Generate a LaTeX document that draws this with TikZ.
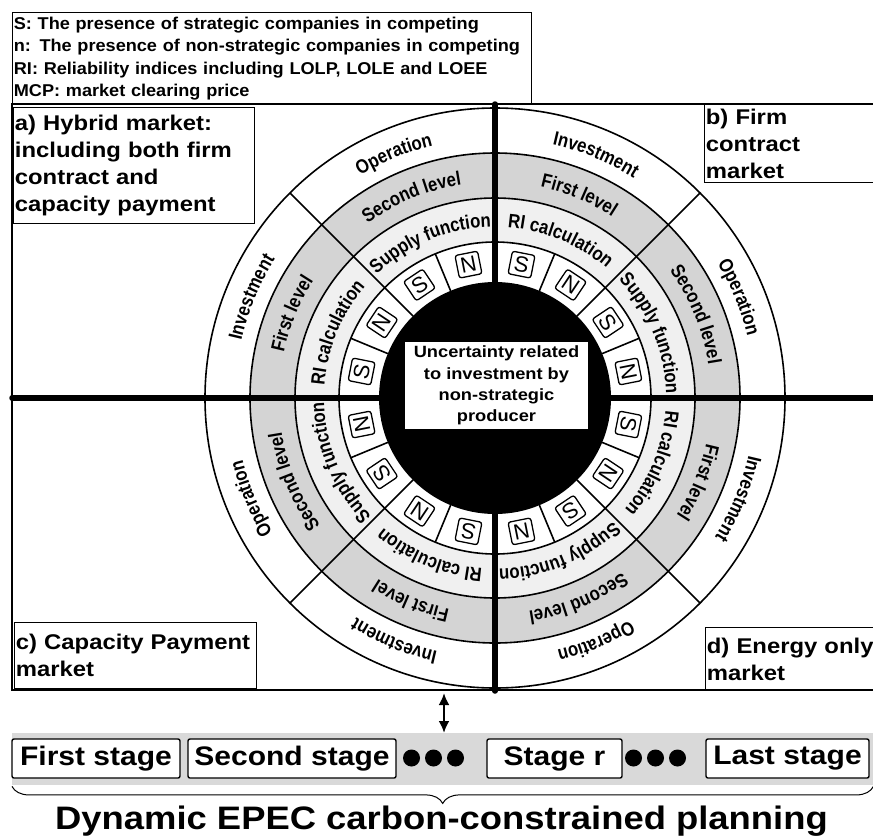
\documentclass[tikz,border=0pt]{standalone}
\usepackage{fontspec}
\setmainfont{Liberation Sans}
\newfontfamily\figfont[FakeStretch=1.12]{Liberation Sans}
\newfontfamily\notefont[FakeStretch=1.06]{Liberation Sans Bold}
\newfontfamily\arcfont[FakeStretch=0.86]{Liberation Sans}
\usepackage{tikz}
\usetikzlibrary{positioning, decorations.text, decorations.pathreplacing, arrows.meta}
\usepackage{xcolor}
\definecolor{levelgray}{gray}{0.83}
\definecolor{calcgray}{gray}{0.94}
\definecolor{bandgray}{gray}{0.85}
\newcommand{\ringfont}{\arcfont\bfseries\fontsize{19.5}{19.5}\selectfont}

\begin{document}
\begin{tikzpicture}[x=1pt, y=1pt,
    labelbox/.style={draw, line width=0.8pt, fill=white, align=left, anchor=north west,
        inner xsep=1.5pt, inner ysep=0pt, font=\figfont\bfseries\fontsize{21.3}{27}\selectfont},
    stagebox/.style={draw, line width=1.4pt, rounded corners=2pt, fill=white, minimum height=39pt,
        inner sep=0pt, font=\figfont\bfseries\fontsize{26.8}{30}\selectfont},
    snbox/.style={draw, line width=1.3pt, rounded corners=2.5pt, minimum size=23pt, inner sep=0pt,
        font=\fontsize{22}{22}\selectfont},
    ring/.style={line width=1.6pt},
    crossline/.style={line width=5.5pt, line cap=round},
    ringtext/.style={decorate, decoration={text along path, text align=center, text={|\ringfont|#1}}}
]
        \useasboundingbox (0,0) rectangle (873,-836);
        \fill[white] (0,0) rectangle (873,-836);

        % Legend
        \node[draw, line width=0.8pt, anchor=north west, align=left, text width=516pt, minimum height=92pt,
              inner xsep=1.5pt, inner ysep=0pt, font=\notefont\fontsize{17.1}{22.5}\selectfont]
              (legend) at (12,-12)
              {S: The presence of strategic companies in competing\\
               n: The presence of non-strategic companies in competing\\
               RI: Reliability indices including LOLP, LOLE and LOEE\\
               MCP: market clearing price};

        % Draw the rings, outside in
        \begin{scope}[shift={(495,-398)}]
            \filldraw[ring, fill=white] (0,0) circle[radius=290pt];
            \filldraw[ring, fill=levelgray] (0,0) circle[radius=245pt];
            \filldraw[ring, fill=calcgray] (0,0) circle[radius=200pt];
            \filldraw[ring, fill=white] (0,0) circle[radius=156pt];
            \fill (0,0) circle[radius=116pt];
            \foreach \a in {45,135,225,315}
                \draw[ring] (\a:156pt) -- (\a:290pt);      % halves of a quadrant
            \foreach \a in {0,22.5,...,337.5}
                \draw[ring] (\a:116pt) -- (\a:156pt);      % S/N cells
        \end{scope}

        % The cross
        \draw[crossline] (12,-398) -- (873,-398);
        \draw[crossline] (495,-104) -- (495,-691);

        \node[fill=white, align=center, minimum width=183pt, minimum height=87pt, inner sep=0pt,
              font=\figfont\bfseries\fontsize{16.3}{21.3}\selectfont] (core) at (496.5,-385.5)
              {Uncertainty related\\ to investment by\\ non-strategic\\ producer};

        % Label the rings, clockwise in every quadrant
        \begin{scope}[shift={(495,-398)}]
            \foreach \q/\s in {1/90,2/0,3/-90,4/-180} {
                \path[ringtext=Investment] (\s:260pt) arc[start angle=\s, delta angle=-45, radius=260pt];
                \path[ringtext=Operation] (\s-45:260pt) arc[start angle=\s-45, delta angle=-45, radius=260pt];
                \path[ringtext=First level] (\s:216pt) arc[start angle=\s, delta angle=-45, radius=216pt];
                \path[ringtext=Second level] (\s-45:216pt) arc[start angle=\s-45, delta angle=-45, radius=216pt];
                \path[ringtext=RI calculation] (\s:171pt) arc[start angle=\s, delta angle=-45, radius=171pt];
                \path[ringtext=Supply function] (\s-45:171pt) arc[start angle=\s-45, delta angle=-45, radius=171pt];
                \foreach \l [count=\j, evaluate=\j as \a using \s-11.25-22.5*(\j-1)] in {S,N,S,N}
                    \node[snbox, rotate=\a-90] (sn\q\j) at (\a:136pt) {\l};
            }
        \end{scope}

        % Market boxes
        \node[labelbox, text width=238pt, minimum height=116pt] (hybrid) at (13,-107)
              {a) Hybrid market:\\ including both firm\\ contract and\\ capacity payment};
        \node[labelbox, text width=185pt, minimum height=78pt] (firm) at (704,-104)
              {b) Firm\\ contract\\ market};
        \node[labelbox, text width=239pt, minimum height=66pt] (capacity) at (14,-622)
              {c) Capacity Payment\\ market};
        \node[labelbox, text width=185pt, minimum height=63pt] (energy) at (705,-627)
              {d) Energy only\\ market};

        % Frame
        \draw[line width=2.6pt] (873,-104) -- (12,-104) -- (12,-690) -- (873,-690);

        % Stages
        \node[fill=bandgray, minimum width=861pt, minimum height=52pt, inner sep=0pt, anchor=north west]
              (band) at (12,-733) {};
        \coordinate (gate) at (444,-693);
        \draw[line width=2.5pt, {Latex[length=12pt,width=11pt]}-{Latex[length=12pt,width=11pt]}]
              (gate) -- (gate |- band.north);
        \node[stagebox, minimum width=168pt] (first) at (96,-758.5) {First stage};
        \node[stagebox, minimum width=208pt] (second) at (292,-758.5) {Second stage};
        \node[stagebox, minimum width=135pt] (stager) at (554.5,-758.5) {Stage r};
        \node[stagebox, minimum width=163pt] (last) at (787.5,-758.5) {Last stage};
        \foreach \x in {411.5,433.5,455.5,633.5,655.5,677.5}
            \fill (\x,-758) circle[radius=8.5pt];

        \draw[decorate, decoration={brace, mirror, amplitude=17pt}, line width=1pt]
              ([yshift=-1pt]band.south west) -- ([yshift=-1pt]band.south east);
        \node[anchor=base, font=\figfont\bfseries\fontsize{32.5}{36}\selectfont] (title) at (441.5,-829)
              {Dynamic EPEC carbon-constrained planning};
\end{tikzpicture}
\end{document}
